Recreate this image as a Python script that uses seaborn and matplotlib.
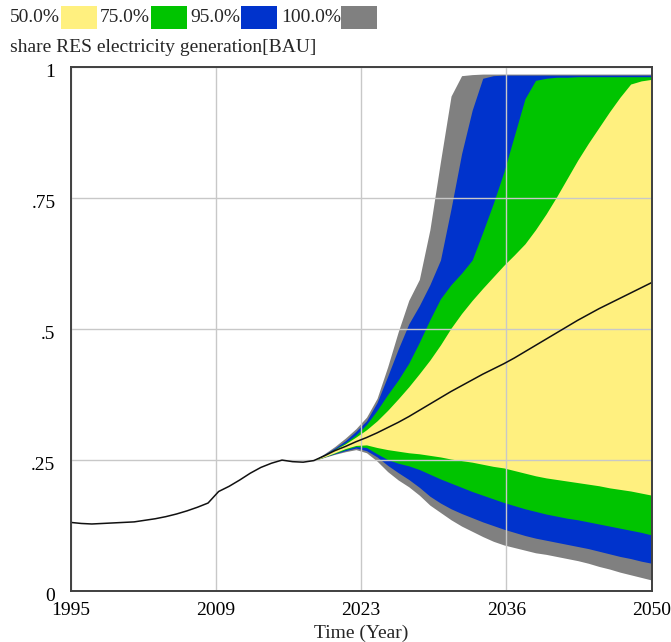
import numpy as np
import pandas as pd
import matplotlib
matplotlib.use("Agg")
import matplotlib.pyplot as plt
from matplotlib.patches import Rectangle
import matplotlib.transforms as mtransforms
import seaborn as sns

# ---- data -------------------------------------------------------------
years = list(range(1995, 2051))

# simulated share of RES in electricity generation, BAU run (median path)
median = [
    0.131, 0.129, 0.128, 0.129, 0.130, 0.131, 0.132, 0.135, 0.138, 0.142,
    0.147, 0.153, 0.160, 0.168, 0.190, 0.200, 0.212, 0.225, 0.236, 0.244,
    0.250, 0.247, 0.246, 0.249, 0.258, 0.268, 0.276, 0.285, 0.293, 0.302,
    0.312, 0.322, 0.333, 0.345, 0.357, 0.369, 0.381, 0.392, 0.403, 0.414,
    0.424, 0.434, 0.445, 0.457, 0.469, 0.481, 0.493, 0.505, 0.517, 0.528,
    0.539, 0.549, 0.559, 0.569, 0.579, 0.589,
]

# sensitivity bands start here
band_years = list(range(2018, 2051))

p100_hi = [0.250, 0.262, 0.276, 0.292, 0.310, 0.332, 0.368, 0.428, 0.495, 0.555,
           0.595, 0.690, 0.820, 0.945, 0.984, 0.986, 0.987, 0.987, 0.987, 0.987,
           0.987, 0.987, 0.987, 0.987, 0.987, 0.987, 0.987, 0.987, 0.987, 0.987,
           0.987, 0.987, 0.987]
p95_hi = [0.250, 0.261, 0.273, 0.287, 0.305, 0.325, 0.360, 0.410, 0.462, 0.510,
          0.545, 0.585, 0.632, 0.730, 0.835, 0.918, 0.979, 0.984, 0.985, 0.985,
          0.985, 0.985, 0.985, 0.985, 0.985, 0.985, 0.985, 0.985, 0.985, 0.985,
          0.985, 0.985, 0.985]
p75_hi = [0.250, 0.260, 0.271, 0.283, 0.298, 0.318, 0.345, 0.375, 0.403, 0.435,
          0.475, 0.518, 0.558, 0.585, 0.607, 0.632, 0.685, 0.740, 0.800, 0.870,
          0.940, 0.975, 0.979, 0.981, 0.981, 0.982, 0.982, 0.982, 0.982, 0.982,
          0.982, 0.982, 0.982]
p50_hi = [0.250, 0.259, 0.270, 0.281, 0.294, 0.308, 0.325, 0.345, 0.367, 0.390,
          0.415, 0.441, 0.470, 0.502, 0.530, 0.555, 0.578, 0.600, 0.622, 0.642,
          0.663, 0.690, 0.720, 0.753, 0.788, 0.823, 0.855, 0.885, 0.915, 0.943,
          0.968, 0.974, 0.977]
p50_lo = [0.249, 0.256, 0.264, 0.272, 0.278, 0.279, 0.274, 0.270, 0.267, 0.264,
          0.262, 0.259, 0.256, 0.252, 0.249, 0.246, 0.242, 0.238, 0.235, 0.230,
          0.225, 0.220, 0.216, 0.213, 0.210, 0.207, 0.204, 0.201, 0.197, 0.194,
          0.191, 0.187, 0.183]
p75_lo = [0.249, 0.256, 0.263, 0.270, 0.276, 0.274, 0.262, 0.251, 0.244, 0.239,
          0.232, 0.223, 0.214, 0.206, 0.198, 0.190, 0.183, 0.176, 0.169, 0.163,
          0.157, 0.152, 0.147, 0.143, 0.139, 0.136, 0.132, 0.128, 0.124, 0.120,
          0.116, 0.112, 0.107]
p95_lo = [0.249, 0.256, 0.262, 0.268, 0.273, 0.268, 0.256, 0.240, 0.226, 0.213,
          0.198, 0.181, 0.168, 0.157, 0.148, 0.140, 0.132, 0.125, 0.118, 0.112,
          0.106, 0.101, 0.097, 0.093, 0.089, 0.085, 0.081, 0.076, 0.071, 0.066,
          0.062, 0.057, 0.053]
p100_lo = [0.249, 0.255, 0.261, 0.266, 0.270, 0.264, 0.248, 0.228, 0.212, 0.199,
           0.183, 0.164, 0.150, 0.136, 0.124, 0.114, 0.104, 0.095, 0.088, 0.083,
           0.078, 0.073, 0.070, 0.066, 0.062, 0.058, 0.053, 0.047, 0.042, 0.036,
           0.031, 0.026, 0.021]

band_labels = ["50.0%", "75.0%", "95.0%", "100.0%"]
band_colors = ["#fff07f", "#00c400", "#0033cc", "#808080"]

x_tick_labels = ["1995", "2009", "2023", "2036", "2050"]
y_tick_labels = ["0", ".25", ".5", ".75", "1"]

series_title = "share RES electricity generation[BAU]"
x_title = "Time (Year)"

# ---- style ------------------------------------------------------------
sns.set_style("white")
plt.rcParams["font.family"] = ["Liberation Serif", "DejaVu Serif"]
plt.rcParams["font.size"] = 14

fig = plt.figure(figsize=(6.71, 6.42), dpi=100)
ax = fig.add_axes([0.1054, 0.0794, 0.8659, 0.8158])

# ---- bands (widest first) ---------------------------------------------
bands = [
    (p100_lo, p100_hi, band_colors[3]),
    (p95_lo, p95_hi, band_colors[2]),
    (p75_lo, p75_hi, band_colors[1]),
    (p50_lo, p50_hi, band_colors[0]),
]
for lo, hi, col in bands:
    ax.fill_between(band_years, lo, hi, color=col, linewidth=0, zorder=2)

df = pd.DataFrame({"year": years, "share": median})
sns.lineplot(data=df, x="year", y="share", color="#111111", linewidth=1.1,
             ax=ax, zorder=3)

# ---- axes -------------------------------------------------------------
ax.set_xlim(1995, 2050)
ax.set_ylim(0, 1)
ax.set_xticks(np.linspace(1995, 2050, 5))
ax.set_xticklabels(x_tick_labels)
ax.set_yticks(np.linspace(0, 1, 5))
ax.set_yticklabels(y_tick_labels)
ax.tick_params(axis="both", length=0, labelsize=14, colors="black")
ax.tick_params(axis="y", pad=11)
ax.tick_params(axis="x", pad=8)
# value labels sit slightly below their gridlines
shift = mtransforms.ScaledTranslation(0, -3 / 100, fig.dpi_scale_trans)
for lab in ax.get_yticklabels():
    lab.set_transform(lab.get_transform() + shift)
ax.grid(True, color="#c8c8c8", linewidth=1.0, zorder=1)
ax.set_axisbelow(False)
for ln in ax.get_xgridlines() + ax.get_ygridlines():
    ln.set_zorder(2.5)
for side in ["left", "bottom", "top", "right"]:
    ax.spines[side].set_color("#404040")
    ax.spines[side].set_linewidth(1.4)
    ax.spines[side].set_zorder(4)
ax.set_xlabel(x_title, fontsize=14, labelpad=4)
ax.set_ylabel("")

# ---- legend row -------------------------------------------------------
W, H = fig.get_size_inches() * fig.dpi
text_x = [10, 100, 190, 281]
box_x = [61, 151, 241, 341]
for lbl, col, tx, bx in zip(band_labels, band_colors, text_x, box_x):
    fig.text(tx / W, 1 - 18 / H, lbl, fontsize=14, va="center", ha="left")
    fig.patches.append(Rectangle((bx / W, 1 - 29 / H), 36 / W, 23 / H,
                                 transform=fig.transFigure, facecolor=col,
                                 edgecolor="none"))
fig.text(10 / W, 1 - 48 / H, series_title, fontsize=14, va="center", ha="left")

fig.savefig("out.png", dpi=100)
